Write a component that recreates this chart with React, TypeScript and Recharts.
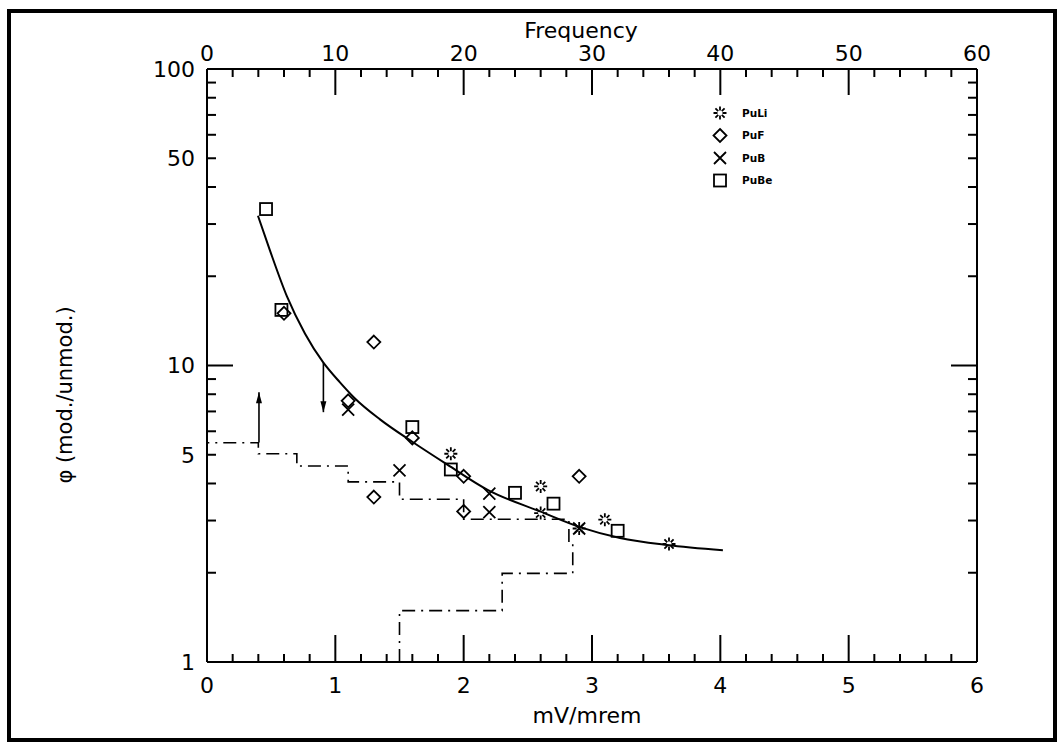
import { ComposedChart, XAxis, YAxis, Scatter, Line } from 'recharts'

type Pt = { x: number; y: number; head?: 'up' | 'down' }

// measured points, x = mV/mrem, y = phi (mod./unmod.)
const puLi: Pt[] = [
  { x: 1.9, y: 5.04 }, { x: 2.6, y: 3.91 }, { x: 2.6, y: 3.18 },
  { x: 2.9, y: 2.82 }, { x: 3.1, y: 3.02 }, { x: 3.6, y: 2.5 },
]
const puF: Pt[] = [
  { x: 0.6, y: 15.0 }, { x: 1.1, y: 7.6 }, { x: 1.3, y: 12.0 }, { x: 1.3, y: 3.6 },
  { x: 1.6, y: 5.7 }, { x: 2.0, y: 4.23 }, { x: 2.0, y: 3.22 }, { x: 2.9, y: 4.23 },
]
const puB: Pt[] = [
  { x: 1.1, y: 7.1 }, { x: 1.5, y: 4.43 }, { x: 2.2, y: 3.7 }, { x: 2.2, y: 3.2 }, { x: 2.9, y: 2.82 },
]
const puBe: Pt[] = [
  { x: 0.46, y: 33.7 }, { x: 0.58, y: 15.4 }, { x: 1.6, y: 6.2 }, { x: 1.9, y: 4.46 },
  { x: 2.4, y: 3.72 }, { x: 2.7, y: 3.42 }, { x: 3.2, y: 2.77 },
]

// fitted curve
const fitX = [0.397, 0.491, 0.623, 0.764, 0.904, 1.036, 1.153, 1.348, 1.605, 1.87, 2.19, 2.595, 2.906, 3.218, 3.584, 4.02]
const fitY = [32, 24.4, 17.1, 12.8, 10.26, 8.77, 7.74, 6.58, 5.51, 4.64, 3.8, 3.22, 2.85, 2.62, 2.48, 2.38]

// limit arrows
const arrowUp: Pt[] = [{ x: 0.405, y: 5.5 }, { x: 0.405, y: 8.13, head: 'up' }]
const arrowDown: Pt[] = [{ x: 0.907, y: 10.2 }, { x: 0.907, y: 6.96, head: 'down' }]

// frequency histogram of phi (top axis), bins on the log y axis
const binEdges = [1, 1.49, 1.99, 2.5, 3.03, 3.54, 4.05, 4.58, 5.04, 5.49]
const binFreq = [15, 23, 28.5, 28.2, 20, 15, 11, 7, 4]

const xTicks = Array.from({ length: 31 }, (_, i) => i / 5)
const freqTicks = Array.from({ length: 31 }, (_, i) => i * 2)
const yTicks = [1, 2, 3, 4, 5, 6, 7, 8, 9, 10, 20, 30, 40, 50, 60, 70, 80, 90, 100]
const yMajor = [1, 10, 100]
const yLabels = [1, 5, 10, 50, 100]

const legendItems = [
  { kind: 'star', name: 'PuLi' },
  { kind: 'diamond', name: 'PuF' },
  { kind: 'cross', name: 'PuB' },
  { kind: 'square', name: 'PuBe' },
]

const FONT = 'DejaVu Sans'

const fitCurve = fitX.map((x, i) => ({ x, y: fitY[i] }))

const histPath: Pt[] = []
binFreq.forEach((f, i) => {
  histPath.push({ x: f, y: binEdges[i] })
  histPath.push({ x: f, y: binEdges[i + 1] })
})
histPath.push({ x: 0, y: binEdges[binEdges.length - 1] })

function Marker({ kind, cx, cy }: { kind: string; cx: number; cy: number }) {
  const s = { stroke: '#000', strokeWidth: 1.8, fill: 'none' }
  if (kind === 'square') return <rect x={cx - 6} y={cy - 6} width={12} height={12} {...s} />
  if (kind === 'diamond')
    return <polygon points={`${cx},${cy - 6.5} ${cx + 6.5},${cy} ${cx},${cy + 6.5} ${cx - 6.5},${cy}`} {...s} />
  if (kind === 'cross')
    return <path d={`M${cx - 6},${cy - 6}L${cx + 6},${cy + 6}M${cx + 6},${cy - 6}L${cx - 6},${cy + 6}`} {...s} />
  // asterisk with an open centre
  const d = [0, 45, 90, 135, 180, 225, 270, 315]
    .map(a => {
      const r = (a * Math.PI) / 180
      return `M${cx + 2.5 * Math.cos(r)},${cy + 2.5 * Math.sin(r)}L${cx + 6.5 * Math.cos(r)},${cy + 6.5 * Math.sin(r)}`
    })
    .join('')
  return <path d={d} {...s} />
}

const shapeOf = (kind: string) => (p: any) => <Marker kind={kind} cx={p.cx} cy={p.cy} />

const ArrowHead = (p: any) => {
  const h = p.payload?.head
  if (!h) return <g />
  const dir = h === 'up' ? 1 : -1
  return (
    <polygon
      points={`${p.cx},${p.cy} ${p.cx - 3},${p.cy + dir * 11} ${p.cx + 3},${p.cy + dir * 11}`}
      fill="#000"
    />
  )
}

const LeftTick = ({ x, y, payload }: any) => {
  const v = payload.value
  return (
    <g>
      <line x1={x} x2={x + (yMajor.includes(v) ? 26 : 9)} y1={y} y2={y} stroke="#000" strokeWidth={2} />
      {yLabels.includes(v) && (
        <text x={x - 12} y={y} dy="0.36em" textAnchor="end" fontSize={22} fontFamily={FONT} fill="#000">
          {v}
        </text>
      )}
    </g>
  )
}

const RightTick = ({ x, y, payload }: any) => {
  const v = payload.value
  return <line x1={x} x2={x - (yMajor.includes(v) ? 26 : 9)} y1={y} y2={y} stroke="#000" strokeWidth={2} />
}

const BottomTick = ({ x, y, payload }: any) => {
  const v = payload.value
  const major = Number.isInteger(v)
  return (
    <g>
      <line x1={x} x2={x} y1={y} y2={y - (major ? 27 : 8)} stroke="#000" strokeWidth={2} />
      {major && (
        <text x={x} y={y + 23} dy="0.36em" textAnchor="middle" fontSize={22} fontFamily={FONT} fill="#000">
          {v}
        </text>
      )}
    </g>
  )
}

const TopTick = ({ x, y, payload }: any) => {
  const v = payload.value
  const major = v % 10 === 0
  return (
    <g>
      <line x1={x} x2={x} y1={y} y2={y + (major ? 26 : 8)} stroke="#000" strokeWidth={2} />
      {major && (
        <text x={x} y={y - 16} dy="0.36em" textAnchor="middle" fontSize={22} fontFamily={FONT} fill="#000">
          {v}
        </text>
      )}
    </g>
  )
}

const axisLine = { stroke: '#000', strokeWidth: 2 }

export default function App() {
  return (
    <div style={{ position: 'absolute', left: 0, top: 0, width: 1063, height: 746, background: '#fff' }}>
      <ComposedChart
        width={1063}
        height={746}
        margin={{ top: 59, right: 76, bottom: 74, left: 147 }}
        style={{ position: 'absolute', left: 0, top: 0 }}
      >
        <XAxis
          xAxisId="bottom"
          dataKey="x"
          type="number"
          domain={[0, 6]}
          ticks={xTicks}
          interval={0}
          height={10}
          tickSize={0}
          tickMargin={0}
          tickLine={false}
          axisLine={axisLine}
          tick={BottomTick}
          allowDataOverflow
        />
        <XAxis
          xAxisId="top"
          orientation="top"
          dataKey="x"
          type="number"
          domain={[0, 60]}
          ticks={freqTicks}
          interval={0}
          height={10}
          tickSize={0}
          tickMargin={0}
          tickLine={false}
          axisLine={axisLine}
          tick={TopTick}
          allowDataOverflow
        />
        <YAxis
          yAxisId="left"
          dataKey="y"
          type="number"
          scale="log"
          domain={[1, 100]}
          ticks={yTicks}
          interval={0}
          width={60}
          tickSize={0}
          tickMargin={0}
          tickLine={false}
          axisLine={axisLine}
          tick={LeftTick}
          allowDataOverflow
        />
        <YAxis
          yAxisId="right"
          orientation="right"
          dataKey="y"
          type="number"
          scale="log"
          domain={[1, 100]}
          ticks={yTicks}
          interval={0}
          width={10}
          tickSize={0}
          tickMargin={0}
          tickLine={false}
          axisLine={axisLine}
          tick={RightTick}
          allowDataOverflow
        />

        <Scatter
          xAxisId="top"
          yAxisId="left"
          data={histPath}
          line={{ stroke: '#000', strokeWidth: 1.6, strokeDasharray: '13 6 2 6' }}
          lineType="joint"
          shape={() => <g />}
          isAnimationActive={false}
        />
        <Line
          xAxisId="bottom"
          yAxisId="left"
          data={fitCurve}
          dataKey="y"
          type="monotone"
          stroke="#000"
          strokeWidth={2}
          dot={false}
          isAnimationActive={false}
        />
        <Scatter
          xAxisId="bottom"
          yAxisId="left"
          data={arrowUp}
          line={{ stroke: '#000', strokeWidth: 1.6 }}
          lineType="joint"
          shape={ArrowHead}
          isAnimationActive={false}
        />
        <Scatter
          xAxisId="bottom"
          yAxisId="left"
          data={arrowDown}
          line={{ stroke: '#000', strokeWidth: 1.6 }}
          lineType="joint"
          shape={ArrowHead}
          isAnimationActive={false}
        />
        <Scatter name="PuLi" xAxisId="bottom" yAxisId="left" data={puLi} shape={shapeOf('star')} isAnimationActive={false} />
        <Scatter name="PuF" xAxisId="bottom" yAxisId="left" data={puF} shape={shapeOf('diamond')} isAnimationActive={false} />
        <Scatter name="PuB" xAxisId="bottom" yAxisId="left" data={puB} shape={shapeOf('cross')} isAnimationActive={false} />
        <Scatter name="PuBe" xAxisId="bottom" yAxisId="left" data={puBe} shape={shapeOf('square')} isAnimationActive={false} />
      </ComposedChart>

      <svg
        width={1063}
        height={746}
        style={{ position: 'absolute', left: 0, top: 0, pointerEvents: 'none' }}
        fontFamily={FONT}
      >
        <rect x={9} y={11} width={1046} height={729} fill="none" stroke="#000" strokeWidth={4} />
        <text x={581} y={30} dy="0.36em" textAnchor="middle" fontSize={22} fill="#000">Frequency</text>
        <text x={587} y={715} dy="0.36em" textAnchor="middle" fontSize={22} fill="#000">mV/mrem</text>
        <text
          x={64}
          y={395}
          dy="0.36em"
          textAnchor="middle"
          fontSize={21}
          fill="#000"
          transform="rotate(-90 64 395)"
        >
          φ (mod./unmod.)
        </text>
        {legendItems.map((it, i) => (
          <g key={it.name}>
            <Marker kind={it.kind} cx={720} cy={113 + i * 22.5} />
            <text x={742} y={113 + i * 22.5} dy="0.36em" fontSize={10.5} fontWeight="bold" fill="#000">
              {it.name}
            </text>
          </g>
        ))}
      </svg>
    </div>
  )
}
